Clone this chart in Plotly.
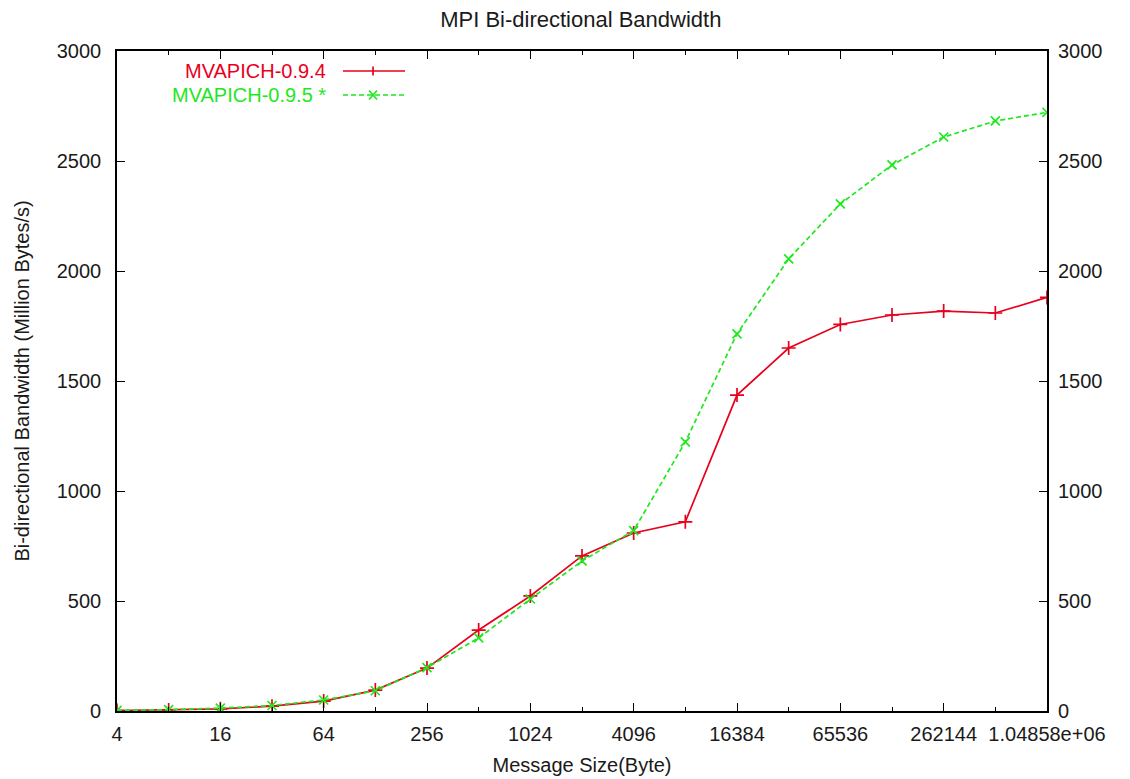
import plotly.graph_objects as go

sizes = [4, 8, 16, 32, 64, 128, 256, 512, 1024, 2048, 4096, 8192, 16384,
         32768, 65536, 131072, 262144, 524288, 1048576]
bw_094 = [2, 5, 10, 22, 45, 95, 195, 368, 523, 705, 809, 860, 1436,
          1650, 1757, 1800, 1818, 1809, 1880]
bw_095 = [3, 6, 13, 25, 50, 92, 197, 332, 509, 682, 820, 1223, 1714,
          2055, 2305, 2482, 2609, 2682, 2721]
names = ["MVAPICH-0.9.4", "MVAPICH-0.9.5 *"]
x_tickvals = [4, 16, 64, 256, 1024, 4096, 16384, 65536, 262144, 1048576]
x_ticktext = ["4", "16", "64", "256", "1024", "4096", "16384", "65536", "262144", "1.04858e+06"]
x_minor = [8, 32, 128, 512, 2048, 8192, 32768, 131072, 524288]
y_ticks = [0, 500, 1000, 1500, 2000, 2500, 3000]

RED = "#e8001c"
GREEN = "#1ee81e"
FONT = "Liberation Sans, Arial, sans-serif"
TXT = "#1a1a1a"

fig = go.Figure()
fig.add_trace(go.Scatter(x=sizes, y=bw_094, mode="lines+markers", name=names[0],
                         line=dict(color=RED, width=1.7),
                         marker=dict(symbol="cross-thin", size=10, line=dict(color=RED, width=1.7))))
fig.add_trace(go.Scatter(x=sizes, y=bw_095, mode="lines+markers", name=names[1],
                         line=dict(color=GREEN, width=1.7, dash="5px,3px"),
                         marker=dict(symbol="x-thin", size=9, line=dict(color=GREEN, width=1.7))))
# invisible trace to anchor the right-side axis
fig.add_trace(go.Scatter(x=sizes, y=bw_094, yaxis="y2", mode="lines",
                         line=dict(width=0), opacity=0, hoverinfo="skip", showlegend=False))

tick_font = dict(family=FONT, size=20, color=TXT)
fig.update_layout(
    width=1130, height=779,
    margin=dict(l=117, r=83, t=51, b=68),
    paper_bgcolor="white", plot_bgcolor="white",
    showlegend=False,
    title=dict(text="MPI Bi-directional Bandwidth", x=0.514, xanchor="center",
               y=0.975, yanchor="middle", font=dict(family=FONT, size=22, color=TXT)),
    xaxis=dict(type="log", range=[0.60206, 6.020600], tickmode="array",
               tickvals=x_tickvals, ticktext=x_ticktext, ticks="inside", ticklen=8,
               tickwidth=1.3, tickcolor="black", showline=True, linecolor="black",
               linewidth=1.6, mirror="ticks", showgrid=False, zeroline=False,
               tickfont=tick_font, ticklabelstandoff=4, automargin=False,
               minor=dict(tickmode="array", tickvals=x_minor, ticks="inside", ticklen=4,
                          tickwidth=1.3, tickcolor="black", showgrid=False),
               title=dict(text="Message Size(Byte)", font=dict(family=FONT, size=20, color=TXT),
                          standoff=14)),
    yaxis=dict(range=[0, 3000], tickmode="array", tickvals=y_ticks, ticks="inside",
               ticklen=8, tickwidth=1.3, tickcolor="black", showline=True,
               linecolor="black", linewidth=1.6, mirror=True, showgrid=False,
               zeroline=False, tickfont=tick_font, ticklabelstandoff=10, automargin=False,
               title=dict(text="Bi-directional Bandwidth (Million Bytes/s)",
                          font=dict(family=FONT, size=20, color=TXT), standoff=22)),
    yaxis2=dict(range=[0, 3000], overlaying="y", side="right", tickmode="array",
                tickvals=y_ticks, ticks="inside", ticklen=8, tickwidth=1.3,
                tickcolor="black", showline=False, showgrid=False, zeroline=False,
                tickfont=tick_font, ticklabelstandoff=10, automargin=False),
)

# hand-drawn legend in gnuplot style (text left, sample right)
legend_y = [0.9697, 0.9333]
colors = [RED, GREEN]
dashes = ["solid", "5px,3px"]
for i in range(2):
    fig.add_annotation(text=names[i], xref="paper", yref="paper", x=0.2269, y=legend_y[i],
                       xanchor="right", yanchor="middle", showarrow=False,
                       font=dict(family=FONT, size=20, color=colors[i]))
    fig.add_shape(type="line", xref="paper", yref="paper", x0=0.243, x1=0.3097,
                  y0=legend_y[i], y1=legend_y[i],
                  line=dict(color=colors[i], width=1.7, dash=dashes[i]))
# legend marker glyphs
cx = 0.2753
dx = 0.0043
dy = 0.0068
fig.add_shape(type="line", xref="paper", yref="paper", x0=cx, x1=cx,
              y0=legend_y[0] - dy, y1=legend_y[0] + dy, line=dict(color=RED, width=1.7))
fig.add_shape(type="line", xref="paper", yref="paper", x0=cx - dx, x1=cx + dx,
              y0=legend_y[1] - dy, y1=legend_y[1] + dy, line=dict(color=GREEN, width=1.7))
fig.add_shape(type="line", xref="paper", yref="paper", x0=cx - dx, x1=cx + dx,
              y0=legend_y[1] + dy, y1=legend_y[1] - dy, line=dict(color=GREEN, width=1.7))

fig.write_html("out.html", config={"displayModeBar": False},
               post_script="document.body.style.margin='0px';")
